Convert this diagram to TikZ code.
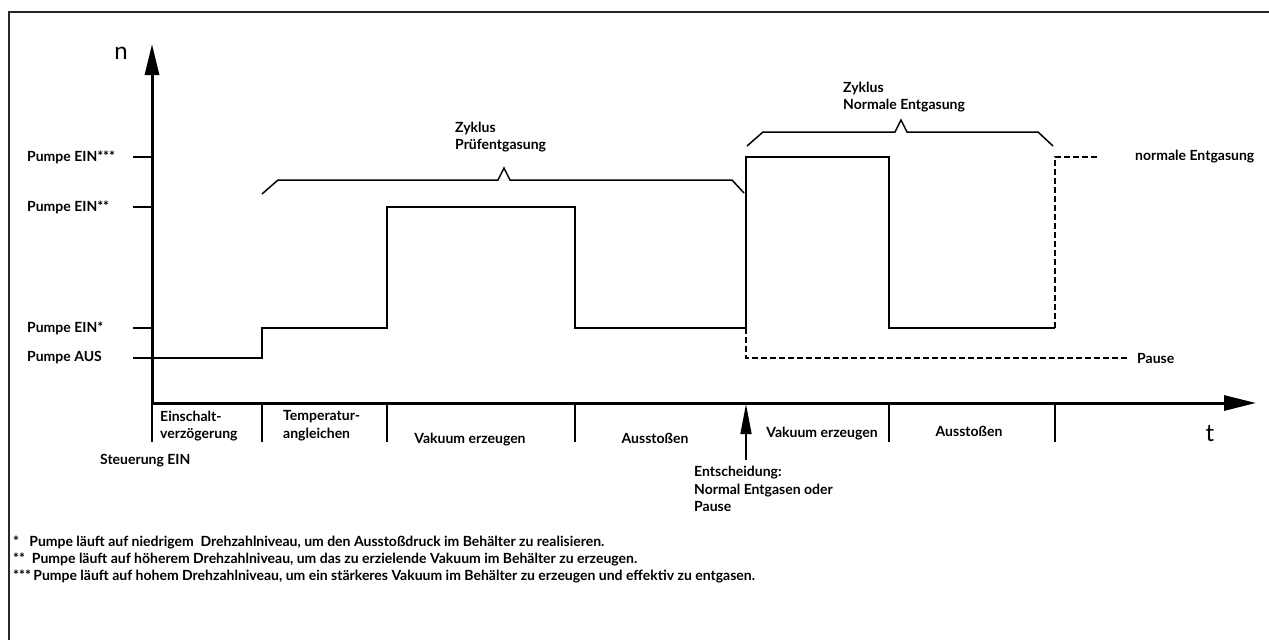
\documentclass[tikz,border=0pt]{standalone}
\usepackage{fontspec}
\setmainfont{Lato}
\usepackage{tikz}
\usetikzlibrary{arrows.meta}

\begin{document}
\begin{tikzpicture}[x=1pt,y=-1pt,
		lbl/.style={font=\bfseries\fontsize{14}{17.8}\selectfont,inner sep=0pt,align=left},
		thin line/.style={line width=1.5pt},
		dash line/.style={line width=1.3pt,dash pattern=on 6pt off 3pt}]
				\useasboundingbox (0,0) rectangle (1269,640);
				\def\xo{152};
				\def\ya{403};
				\def\yaus{358};
				\def\yein{328};
				\def\yzwei{207};
				\def\ydrei{157};
				% frame
				\draw[line width=2.5pt,black!85] (9,640) -- (9,12) -- (1269,12);
				% axes
				\draw[line width=3pt,{Triangle[length=31pt,width=14pt]}-{Triangle[length=32pt,width=15pt]}]
				(\xo,44) -- (\xo,\ya) -- (1256,\ya);
				\node[font=\fontsize{24}{28}\selectfont,inner sep=0pt] (n) at (121,53) {n};
				\node[font=\fontsize{24}{28}\selectfont,inner sep=0pt] (t) at (1210,434) {t};
				% levels
				\foreach \y in {\ydrei,\yzwei,\yein,\yaus}
					\draw[thin line] (133,\y) -- (\xo,\y);
				\node[lbl,anchor=west] (ein3) at (27,\ydrei) {Pumpe EIN***};
				\node[lbl,anchor=west] (ein2) at (27,\yzwei) {Pumpe EIN**};
				\node[lbl,anchor=west] (ein1) at (27,\yein) {Pumpe EIN*};
				\node[lbl,anchor=west] (aus) at (27,\yaus) {Pumpe AUS};
				% speed curve
				\draw[line width=2.7pt] (\xo,\yaus) -- (262,\yaus) -- (262,\yein) -- (387,\yein)
				-- (387,\yzwei) -- (575,\yzwei) -- (575,\yein) -- (746,\yein) -- (746,\ydrei)
				-- (889,\ydrei) -- (889,\yein) -- (1055,\yein);
				\draw[dash line] (1055,\yein) -- (1055,\ydrei) -- (1098,\ydrei);
				\draw[dash line] (746,\yein) -- (746,\yaus) -- (1128,\yaus);
				\node[lbl,anchor=west] (normal) at (1135,\ydrei) {normale Entgasung};
				\node[lbl,anchor=west] (pause) at (1137,\yaus) {Pause};
				% braces
				\draw[thin line] (262,194) -- (278,180) -- (498,180) -- (504,168) -- (510,180)
				-- (732,180) -- (744,193);
				\draw[thin line] (747,146) -- (763,132) -- (895,132) -- (901,120) -- (907,132)
				-- (1038,132) -- (1053,146);
				\node[lbl,anchor=west] (zyk1) at (455,137) {Zyklus\\Prüfentgasung};
				\node[lbl,anchor=west] (zyk2) at (843,97) {Zyklus\\Normale Entgasung};
				% phases
				\foreach \x in {262,387,575,889,1055}
					\draw[thin line] (\x,\ya) -- (\x,442);
				\draw[thin line] (\xo,\ya) -- (\xo,442);
				\draw[thin line,-{Triangle[length=30pt,width=11pt]}] (746,460) -- (746,404);
				\node[lbl,anchor=west] (einsch) at (160,426) {Einschalt-\\verzögerung};
				\node[lbl,anchor=west] (temp) at (283,426) {Temperatur-\\angleichen};
				\node[lbl] (vak1) at (470,440) {Vakuum erzeugen};
				\node[lbl] (aust1) at (655,438) {Ausstoßen};
				\node[lbl] (vak2) at (822,434) {Vakuum erzeugen};
				\node[lbl] (aust2) at (969,431) {Ausstoßen};
				\node[lbl,anchor=west] (steu) at (100,461) {Steuerung EIN};
				\node[lbl,anchor=west] (ents) at (694,489) {Entscheidung:\\Normal Entgasen oder\\Pause};
				% notes
				\node[lbl,anchor=west] (fn1) at (13,542) {*\ \ \ Pumpe läuft auf niedrigem\ \ Drehzahlniveau, um den Ausstoßdruck im Behälter zu realisieren.};
				\node[lbl,anchor=west] (fn2) at (13,559) {**\ \ Pumpe läuft auf höherem Drehzahlniveau, um das zu erzielende Vakuum im Behälter zu erzeugen.};
				\node[lbl,anchor=west] (fn3) at (13,576) {***\,Pumpe läuft auf hohem Drehzahlniveau, um ein stärkeres Vakuum im Behälter zu erzeugen und effektiv zu entgasen.};
			\end{tikzpicture}
\end{document}
